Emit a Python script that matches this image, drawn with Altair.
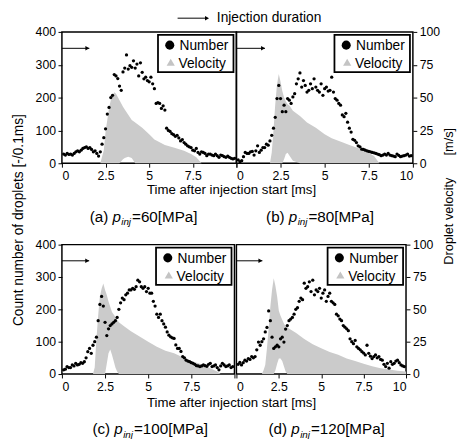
import altair as alt
import pandas as pd

FONT = "Liberation Sans"

# sampling grid of the droplet counts (every 0.1 ms)
TIME = [round(0.1 * i, 1) for i in range(1, 100)]

NUM_A = [28, 25, 30, 27, 28, 25, 30, 35, 38, 35,
         40, 45, 48, 50, 45, 48, 42, 35, 38, 30,
         22, 35, 58, 78, 105, 150, 170, 200, 207, 270,
         266, 258, 235, 222, 278, 290, 330, 287, 297, 292,
         312, 290, 302, 266, 306, 277, 257, 262, 252, 248,
         262, 242, 227, 182, 185, 182, 167, 175, 162, 107,
         100, 97, 90, 87, 82, 85, 77, 68, 72, 63,
         58, 53, 50, 48, 40, 38, 45, 33, 28, 35,
         33, 30, 23, 28, 28, 25, 23, 28, 23, 18,
         25, 23, 20, 18, 22, 18, 15, 13, 15]
NUM_B = [10, 5, 8, 20, 33, 30, 30, 35, 36, 25,
         38, 53, 33, 40, 48, 48, 58, 55, 68, 85,
         107, 140, 197, 237, 197, 157, 177, 157, 197, 192,
         182, 202, 212, 242, 257, 275, 232, 252, 237, 217,
         222, 242, 227, 257, 232, 222, 217, 242, 207, 227,
         232, 220, 222, 262, 217, 197, 192, 182, 177, 147,
         142, 152, 125, 107, 95, 73, 70, 63, 53, 50,
         43, 42, 40, 38, 36, 35, 33, 32, 30, 28,
         26, 23, 25, 28, 25, 30, 25, 23, 22, 20,
         28, 24, 20, 22, 23, 25, 28, 22, 23]
NUM_C = [13, 15, 23, 20, 20, 28, 25, 33, 28, 30,
         35, 33, 38, 50, 69, 79, 64, 89, 100, 114,
         165, 215, 240, 210, 160, 119, 140, 150, 155, 160,
         165, 175, 200, 220, 235, 230, 245, 250, 260, 260,
         265, 262, 270, 290, 285, 270, 265, 270, 255, 265,
         250, 250, 225, 210, 185, 175, 185, 165, 155, 145,
         130, 120, 115, 112, 110, 90, 79, 79, 70, 54,
         50, 43, 40, 38, 35, 33, 30, 26, 25, 23,
         25, 28, 26, 24, 30, 33, 23, 25, 28, 20,
         13, 25, 33, 28, 23, 25, 28, 20, 23]
NUM_D = [30, 36, 28, 35, 43, 40, 48, 45, 54, 50,
         54, 75, 99, 89, 100, 109, 130, 144, 195, 165,
         114, 79, 84, 89, 84, 109, 114, 99, 139, 150,
         165, 170, 175, 185, 200, 205, 225, 235, 230, 281,
         265, 270, 285, 255, 290, 245, 260, 255, 265, 235,
         250, 260, 225, 240, 250, 225, 220, 215, 185, 180,
         170, 165, 150, 145, 140, 134, 109, 100, 94, 104,
         84, 79, 75, 69, 65, 59, 89, 64, 55, 48,
         54, 59, 50, 54, 45, 43, 30, 23, 33, 18,
         38, 30, 33, 40, 43, 35, 28, 25, 23]

# velocity cloud: time, lower and upper envelope [m/s]
VEL_T_A = [2.2, 2.4, 2.5, 2.6, 2.7, 2.8, 2.9, 3.0, 3.1, 3.3, 3.5, 3.6, 3.8, 4.0, 4.2, 4.6, 5.0, 5.3, 5.9, 6.4, 7.0, 7.4, 7.7, 8.0]
VEL_HI_A = [0, 10, 24, 33, 42, 48, 52, 54, 53, 48, 43, 41, 37, 33, 31, 27, 22, 18, 14, 12, 9.5, 7, 4.5, 0]
VEL_LO_A = [0, 0, 0, 0, 0, 0, 0, 0, 0, 0, 3, 4, 5, 4, 0, 0, 0, 0, 0, 0, 0, 0, 0, 0]

VEL_T_B = [1.9, 2.0, 2.1, 2.2, 2.3, 2.4, 2.5, 2.6, 2.7, 2.8, 2.9, 3.0, 3.2, 3.6, 4.0, 4.5, 5.0, 5.4, 6.0, 6.4, 7.0, 7.3, 7.8, 8.1]
VEL_HI_B = [0, 8, 25, 45, 60, 68, 62, 55, 50, 47, 45, 44, 40, 36, 31, 27, 22, 19, 16, 14, 11, 9.5, 5.5, 0]
VEL_LO_B = [0, 0, 0, 0, 0, 0, 0, 0, 3, 7, 8, 6, 2, 0, 0, 0, 0, 0, 0, 0, 0, 0, 0, 0]

VEL_T_C = [1.8, 1.9, 2.0, 2.1, 2.2, 2.3, 2.4, 2.5, 2.6, 2.7, 2.8, 2.9, 3.0, 3.1, 3.2, 3.3, 3.6, 4.0, 4.5, 5.0, 5.5, 6.0, 6.5, 7.0, 7.5, 8.0, 8.5, 9.0, 9.2]
VEL_HI_C = [0, 5, 27, 45, 60, 66, 70, 65, 61, 56, 52, 48, 46, 44, 42, 40, 37, 33, 29, 25, 21, 18, 16, 13, 10, 8, 5, 2, 0]
VEL_LO_C = [0, 0, 0, 0, 0, 0, 0, 0, 8, 16, 19, 15, 10, 5, 2, 0, 0, 0, 0, 0, 0, 0, 0, 0, 0, 0, 0, 0, 0]

VEL_T_D = [1.5, 1.6, 1.7, 1.8, 1.9, 2.0, 2.1, 2.2, 2.3, 2.4, 2.5, 2.6, 2.7, 2.8, 2.9, 3.0, 3.5, 4.0, 4.5, 5.0, 5.5, 6.0, 6.5, 7.0, 7.5, 8.0, 8.5, 9.0, 9.5, 10.0]
VEL_HI_D = [0, 3, 7, 20, 35, 52, 65, 74, 68, 60, 49, 45, 42, 39, 37, 36, 32, 27, 23, 20, 17, 15, 12, 10, 8, 6, 4.5, 3.5, 2.5, 2]
VEL_LO_D = [0, 0, 0, 0, 0, 0, 0, 0, 3, 8, 12, 12, 10, 6, 2, 0, 0, 0, 0, 0, 0, 0, 0, 0, 0, 0, 0, 0, 0, 0]

PANEL_TAGS = ["(a)", "(b)", "(c)", "(d)"]
PRESSURES = ["=60[MPa]", "=80[MPa]", "=100[MPa]", "=120[MPa]"]
INJ_END = [1.57, 1.62, 1.58, 1.53]
INJ_LEVEL = 350
LEGEND_ITEMS = ["Number", "Velocity"]
X_TICKS = [0, 2.5, 5, 7.5, 10]
Y_TICKS = [0, 100, 200, 300, 400]
V_TICKS = [0, 25, 50, 75, 100]
X_TITLE = "Time after injection start [ms]"
Y_TITLE = "Count number of droplets [-/0.1ms]"
V_TITLE = "Droplet velocity"
V_UNIT = "[m/s]"
DUR_TEXT = "Injection duration"

one = pd.DataFrame({"k": [0]})


def txt(text, x, y, size, align="left", baseline="alphabetic", angle=0, style="normal"):
    kw = dict(text=text, align=align, baseline=baseline, font=FONT, fontSize=size,
              color="black", fontStyle=style)
    if angle:
        kw["angle"] = angle
    return alt.Chart(one).mark_text(**kw).encode(x=alt.value(x), y=alt.value(y))


def panel(i, num, vt, vlo, vhi, w, h, left, right, hide10, px):
    xscale = alt.Scale(domain=[0, 10], nice=False, zero=False)
    xaxis = alt.Axis(values=X_TICKS, format=".1~f", title=None,
                     labelExpr="datum.value == 10 ? '' : datum.label" if hide10 else "datum.label")
    cscale = alt.Scale(domain=[0, 400], nice=False)
    vscale = alt.Scale(domain=[0, 100], nice=False)
    yaxis = alt.Axis(values=Y_TICKS, format="d", orient="left", title=None) if left else None
    vaxis = alt.Axis(values=V_TICKS, format="d", orient="right", title=None) if right else None

    num_df = pd.DataFrame({"t": TIME, "n": num})
    vel_df = pd.DataFrame({"t": vt, "lo": vlo, "hi": vhi})
    inj_df = pd.DataFrame({"x0": [0], "x1": [INJ_END[i]], "y": [INJ_LEVEL]})

    area = alt.Chart(vel_df).mark_area(color="#cbcbcb", opacity=1).encode(
        x=alt.X("t:Q", scale=xscale, axis=xaxis),
        y=alt.Y("hi:Q", scale=vscale, axis=vaxis),
        y2="lo:Q")
    pts = alt.Chart(num_df).mark_circle(size=11, color="black", opacity=1).encode(
        x=alt.X("t:Q", scale=xscale, axis=xaxis),
        y=alt.Y("n:Q", scale=cscale, axis=yaxis))
    arr = alt.Chart(inj_df).mark_rule(color="black", strokeWidth=1).encode(
        x=alt.X("x0:Q", scale=xscale, axis=xaxis), x2="x1:Q",
        y=alt.Y("y:Q", scale=cscale, axis=None))
    head = alt.Chart(inj_df).mark_point(shape="triangle-right", filled=True, size=22,
                                        color="black", opacity=1, xOffset=-2).encode(
        x=alt.X("x1:Q", scale=xscale, axis=xaxis),
        y=alt.Y("y:Q", scale=cscale, axis=None))

    bx = w - 80
    box = alt.Chart(one).mark_rect(fill="white", stroke="black", strokeWidth=1.8).encode(
        x=alt.value(bx), x2=alt.value(w - 3), y=alt.value(3), y2=alt.value(41))
    s1 = alt.Chart(one).mark_point(shape="circle", filled=True, size=85, color="black",
                                   opacity=1).encode(x=alt.value(bx + 12), y=alt.value(13.5))
    s2 = alt.Chart(one).mark_point(shape="triangle-up", filled=True, size=70, color="#c4c4c4",
                                   opacity=1).encode(x=alt.value(bx + 13), y=alt.value(31))
    t1 = txt(LEGEND_ITEMS[0], bx + 22, 18.7, 14)
    t2 = txt(LEGEND_ITEMS[1], bx + 21, 37.3, 14)

    base = 193.5
    sub = [
        txt(PANEL_TAGS[i], px - 4.3, base, 15.5, align="right"),
        txt("p", px, base, 15.5, style="italic"),
        txt("inj", px + 9, base + 3.5, 10, style="italic"),
        txt(PRESSURES[i], px + 20, base, 15.5),
    ]
    layers = [area, pts, arr, head, box, s1, s2, t1, t2] + sub

    if i == 0:
        anchor = alt.Chart(one).mark_rect(opacity=0).encode(
            x=alt.value(-54), x2=alt.value(-53), y=alt.value(-20), y2=alt.value(-19))
        dur_df = pd.DataFrame({"k": [0]})
        drule = alt.Chart(dur_df).mark_rule(color="black", strokeWidth=1).encode(
            x=alt.value(118), x2=alt.value(148), y=alt.value(-14))
        dhead = alt.Chart(dur_df).mark_point(shape="triangle-right", filled=True, size=22,
                                             color="black", opacity=1).encode(
            x=alt.value(148), y=alt.value(-14))
        layers += [anchor, drule, dhead,
                   txt(DUR_TEXT, 158, -14, 14, baseline="middle"),
                   txt(Y_TITLE, -44, 192, 14, align="center", baseline="middle", angle=270)]
    if i in (0, 2):
        layers.append(txt(X_TITLE, 173, 165.5, 13.5, align="center"))
    if i == 1:
        layers += [txt(V_TITLE, 217, 193, 13, align="center", baseline="middle", angle=270),
                   txt(V_UNIT, 217, 112, 13, align="center", baseline="middle", angle=270)]

    return alt.layer(*layers).resolve_scale(y="independent").properties(width=w, height=h)


pa = panel(0, NUM_A, VEL_T_A, VEL_LO_A, VEL_HI_A, 178, 134, True, False, True, 51.5)
pb = panel(1, NUM_B, VEL_T_B, VEL_LO_B, VEL_HI_B, 180, 134, False, True, False, 53.5)
pc = panel(2, NUM_C, VEL_T_C, VEL_LO_C, VEL_HI_C, 176, 132, True, False, True, 53.5)
pd_ = panel(3, NUM_D, VEL_T_D, VEL_LO_D, VEL_HI_D, 173, 132, False, True, False, 56)

chart = alt.concat(pa, pb, pc, pd_, columns=2, spacing={"row": 83, "column": 0},
                   bounds="flush").properties(
    padding={"left": 0, "top": -2, "right": 0, "bottom": 0}).configure_view(
    stroke="black", strokeWidth=1.5).configure_axis(
    labelFont=FONT, labelFontSize=12.5, labelColor="black", tickColor="black",
    tickSize=4, domain=False, grid=False, labelPadding=2.5)

chart.save("out.html", embed_options={"renderer": "svg", "actions": False})
